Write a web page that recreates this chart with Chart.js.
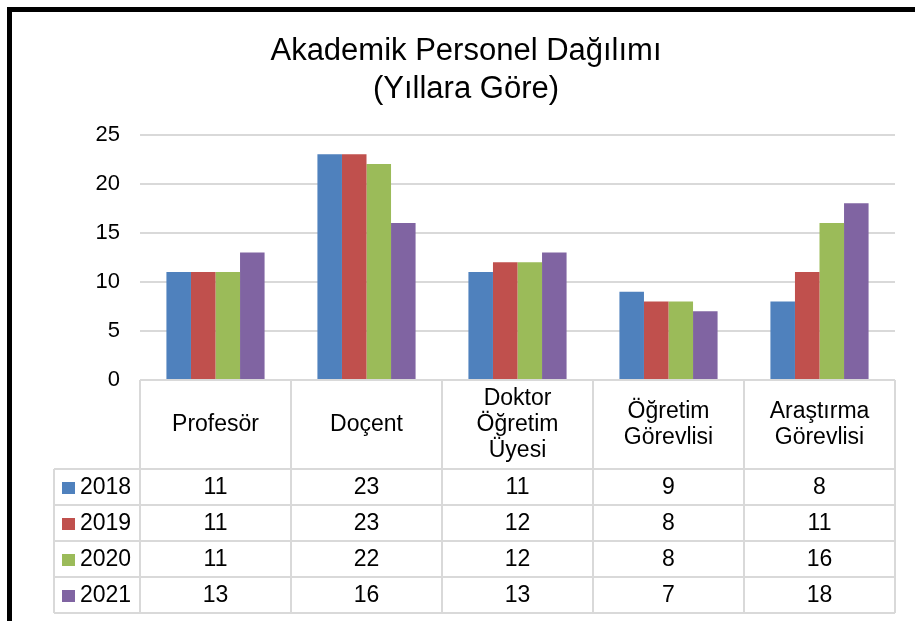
<!DOCTYPE html>
<html>
<head>
<meta charset="utf-8">
<title>Akademik Personel Dağılımı</title>
<script src="https://cdn.jsdelivr.net/npm/chart.js@4.4.1/dist/chart.umd.min.js"></script>
<style>
    html, body { margin: 0; padding: 0; background: #fff; overflow: hidden; }
    #wrap { position: relative; width: 915px; height: 621px; }
    #frame {
        position: absolute; left: 7px; top: 7px; width: 930px; height: 640px;
        border-left: 5px solid #000; border-top: 5px solid #000;
    }
    #chart { position: absolute; left: 0; top: 0; }
</style>
</head>
<body>
<div id="wrap">
    <div id="frame"></div>
    <canvas id="chart" width="915" height="621"></canvas>
</div>
<script>
// Chart data
const categories = ['Profesör', 'Doçent', 'Doktor\nÖğretim\nÜyesi', 'Öğretim\nGörevlisi', 'Araştırma\nGörevlisi'];
const years = ['2018', '2019', '2020', '2021'];
const values2018 = [11, 23, 11, 9, 8];
const values2019 = [11, 23, 12, 8, 11];
const values2020 = [11, 22, 12, 8, 16];
const values2021 = [13, 16, 13, 7, 18];
const yTicks = [0, 5, 10, 15, 20, 25];

const seriesValues = [values2018, values2019, values2020, values2021];
const colors = ['#4f81bd', '#c0504d', '#9bbb59', '#8064a2'];
const FONT = '"Liberation Sans", Arial, sans-serif';

// Draws the data table under the plot area, aligned to the x scale
const dataTablePlugin = {
    id: 'dataTable',
    afterDraw(chart) {
        const { ctx, chartArea } = chart;
        const xScale = chart.scales.x;
        const n = categories.length;
        const colW = xScale.width / n;
        const top = chartArea.bottom;
        const headH = 89;
        const rowH = 36;
        const legendLeft = 54;
        const bottom = top + headH + rowH * years.length;

        ctx.save();
        ctx.strokeStyle = '#d9d9d9';
        ctx.lineWidth = 2;
        const line = (x1, y1, x2, y2) => {
            ctx.beginPath();
            ctx.moveTo(x1, y1);
            ctx.lineTo(x2, y2);
            ctx.stroke();
        };
        line(xScale.left, top, xScale.right, top);
        for (let r = 0; r <= years.length; r++) {
            const y = top + headH + r * rowH;
            line(legendLeft, y, xScale.right, y);
        }
        for (let c = 0; c <= n; c++) {
            const x = xScale.left + c * colW;
            line(x, top, x, bottom);
        }
        line(legendLeft, top + headH, legendLeft, bottom);

        ctx.fillStyle = '#000';
        ctx.font = '23px ' + FONT;
        ctx.textAlign = 'center';
        ctx.textBaseline = 'middle';

        // category header
        categories.forEach((cat, i) => {
            const cx = xScale.getPixelForValue(i);
            const lines = cat.split('\n');
            const lh = 26;
            const y0 = top + headH / 2 - (lines.length - 1) * lh / 2;
            lines.forEach((t, k) => ctx.fillText(t, cx, y0 + k * lh));
        });

        // value rows
        years.forEach((yr, r) => {
            const cy = top + headH + r * rowH + rowH / 2 + 1;
            ctx.fillStyle = colors[r];
            ctx.fillRect(legendLeft + 8, cy - 6, 13, 12);
            ctx.fillStyle = '#000';
            ctx.textAlign = 'left';
            ctx.fillText(yr, legendLeft + 26, cy);
            ctx.textAlign = 'center';
            seriesValues[r].forEach((v, i) => {
                ctx.fillText(String(v), xScale.getPixelForValue(i), cy);
            });
        });
        ctx.restore();
    }
};

const ctx = document.getElementById('chart').getContext('2d');
new Chart(ctx, {
    type: 'bar',
    data: {
        labels: categories,
        datasets: years.map((yr, i) => ({
            label: yr,
            data: seriesValues[i],
            backgroundColor: colors[i],
            borderWidth: 0,
            categoryPercentage: 0.65,
            barPercentage: 1.0
        }))
    },
    options: {
        responsive: false,
        animation: false,
        layout: {
            padding: { left: 37, right: 20, top: 12, bottom: 241 }
        },
        plugins: {
            legend: { display: false },
            tooltip: { enabled: false },
            title: {
                display: true,
                text: ['Akademik Personel Dağılımı', '(Yıllara Göre)'],
                color: '#000',
                font: { family: FONT, size: 31, weight: 'normal', lineHeight: 1.22 },
                padding: { top: 21, bottom: 26 }
            }
        },
        scales: {
            x: {
                display: false
            },
            y: {
                min: 0,
                max: 25,
                afterBuildTicks(scale) {
                    scale.ticks = yTicks.map(v => ({ value: v }));
                },
                afterFit(scale) {
                    scale.width = 103;
                },
                border: { display: false },
                grid: { color: '#d9d9d9', lineWidth: 2, drawTicks: false },
                ticks: {
                    color: '#000',
                    padding: 20,
                    font: { family: FONT, size: 22 }
                }
            }
        }
    },
    plugins: [dataTablePlugin]
});
</script>
</body>
</html>
